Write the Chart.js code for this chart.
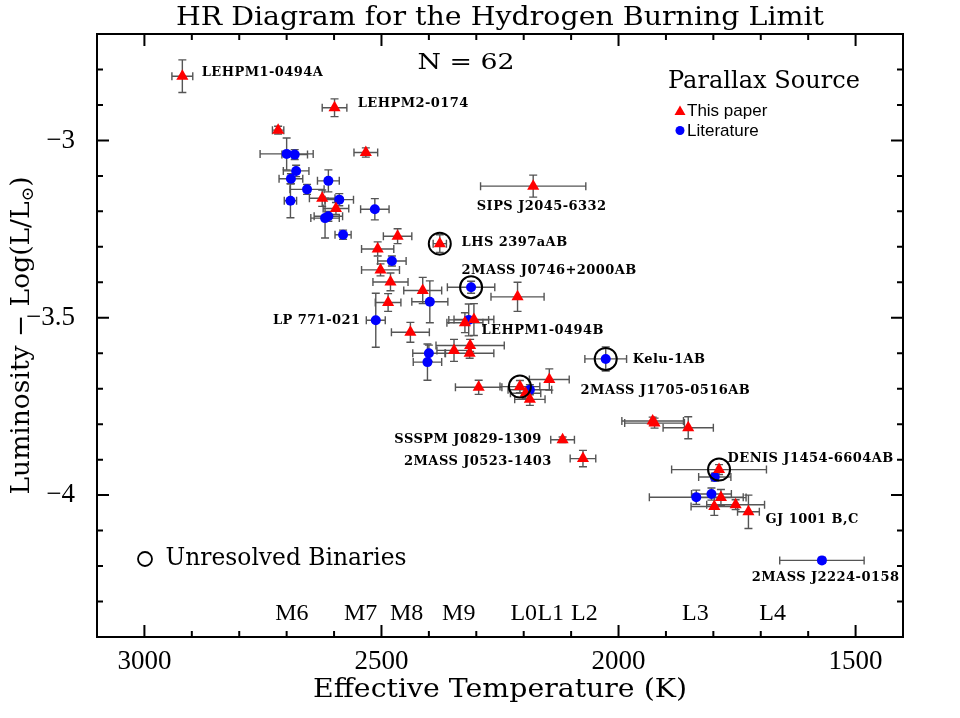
<!DOCTYPE html>
<html>
<head>
<meta charset="utf-8">
<script src="https://cdn.jsdelivr.net/npm/chart.js@4.4.1/dist/chart.umd.min.js"></script>
<style>
  html, body { margin: 0; padding: 0; background: #fff; }
  #wrap { width: 960px; height: 718px; position: relative; }
</style>
</head>
<body>
<div id="wrap"><canvas id="hr"></canvas></div>
<script>
// ---- Data ----
// Parallax from this paper (red triangles)
const paperTeff = [2920, 2599, 2718, 2533, 2625, 2596, 2466, 2377, 2508, 2502, 2481, 2413, 2486, 2213, 2305, 2324, 2439, 2347, 2313, 2314, 2295, 2208, 2146, 2187, 2180, 2118, 2075, 1928, 1924, 1853, 1788, 1784, 1798, 1753, 1726, 2196];
const paperLum = [-2.819, -2.908, -2.971, -3.034, -3.163, -3.192, -3.270, -3.291, -3.306, -3.365, -3.399, -3.423, -3.457, -3.441, -3.505, -3.514, -3.541, -3.592, -3.578, -3.600, -3.696, -3.694, -3.674, -3.730, -3.129, -3.844, -3.897, -3.791, -3.797, -3.810, -3.928, -4.007, -4.032, -4.027, -4.047, -3.713];
const paperTeffErr = [22, 26, 12, 25, 27, 27, 30, 14, 34, 40, 37, 40, 27, 56, 42, 38, 40, 36, 72, 51, 49, 42, 42, 32, 111, 25, 27, 65, 63, 53, 100, 53, 49, 61, 23, 32];
const paperLumErr = [0.046, 0.025, 0.011, 0.013, 0.023, 0.017, 0.021, 0.025, 0.020, 0.017, 0.025, 0.037, 0.025, 0.041, 0.045, 0.028, 0.028, 0.031, 0.017, 0.014, 0.020, 0.017, 0.030, 0.017, 0.031, 0.008, 0.023, 0.011, 0.014, 0.031, 0.014, 0.023, 0.025, 0.014, 0.047, 0.014];

// Parallax from the literature (blue circles)
const litTeff = [2700, 2683, 2680, 2691, 2657, 2612, 2589, 2692, 2514, 2619, 2612, 2581, 2478, 2311, 2398, 2512, 2316, 2400, 2403, 2187, 2027, 1797, 1836, 1804, 1571];
const litLum = [-3.038, -3.040, -3.086, -3.108, -3.138, -3.114, -3.167, -3.170, -3.194, -3.219, -3.214, -3.266, -3.340, -3.414, -3.455, -3.507, -3.506, -3.600, -3.625, -3.703, -3.616, -3.949, -4.006, -3.997, -4.184];
const litTeffErr = [56, 27, 27, 25, 36, 23, 30, 13, 30, 30, 30, 17, 30, 50, 38, 20, 42, 34, 30, 46, 44, 34, 99, 42, 89];
const litLumErr = [0.045, 0.014, 0.016, 0.014, 0.014, 0.031, 0.017, 0.048, 0.030, 0.056, 0.014, 0.013, 0.014, 0.017, 0.059, 0.076, 0.045, 0.023, 0.051, 0.014, 0.034, 0.011, 0.020, 0.017, 0.008];

// Unresolved binaries (open circles)
const binaryTeff = [2377, 2311, 2208, 2027, 1788];
const binaryLum = [-3.291, -3.414, -3.694, -3.616, -3.928];

// Object names and where they sit (data units)
const objectNames = ['LEHPM1-0494A', 'LEHPM2-0174', 'SIPS J2045-6332', 'LHS 2397aAB', '2MASS J0746+2000AB', 'LP 771-021', 'LEHPM1-0494B', 'Kelu-1AB', '2MASS J1705-0516AB', 'SSSPM J0829-1309', '2MASS J0523-1403', 'DENIS J1454-6604AB', 'GJ 1001 B,C', '2MASS J2224-0158'];
const nameTeff = [2879, 2550, 2299, 2331, 2331, 2544, 2289, 1970, 2080, 2162, 2141, 1770, 1690, 1719];
const nameLum = [-2.809, -2.896, -3.186, -3.288, -3.367, -3.508, -3.536, -3.618, -3.705, -3.843, -3.905, -3.897, -4.068, -4.232];
const nameAlign = ['left', 'left', 'left', 'left', 'left', 'right', 'left', 'left', 'left', 'right', 'right', 'left', 'left', 'left'];

// Spectral types along the bottom
const spectralTypes = ['M6', 'M7', 'M8', 'M9', 'L0', 'L1', 'L2', 'L3', 'L4'];
const spectralTeff = [2689, 2544, 2447, 2337, 2200, 2143, 2072, 1838, 1675];

const xMajorTicks = [3000, 2500, 2000, 1500];
const yMajorTicks = [-3, -3.5, -4];

const toPoints = (xs, ys, xe, ye) => xs.map((v, i) => ({ x: v, y: ys[i], xe: xe ? xe[i] : 0, ye: ye ? ye[i] : 0 }));

const SERIF = "'DejaVu Serif', serif";
const TICK_SERIF = "'Liberation Serif', serif";

// ---- Helpers ----
function fitText(ctx, text, cx, cy, font, width, angle) {
    ctx.save();
    ctx.font = font;
    const w = ctx.measureText(text).width;
    ctx.translate(cx, cy);
    if (angle) ctx.rotate(angle);
    ctx.scale(width / w, 1);
    ctx.textAlign = 'center';
    ctx.textBaseline = 'middle';
    ctx.fillStyle = '#000';
    ctx.fillText(text, 0, 0);
    ctx.restore();
}

const isMultiple = (v, step) => Math.abs(v / step - Math.round(v / step)) < 1e-6;

// ---- Error bars (drawn under the markers) ----
const errorBars = {
    id: 'errorBars',
    beforeDatasetsDraw(chart) {
        const { ctx, scales: { x, y } } = chart;
        ctx.save();
        ctx.strokeStyle = '#555';
        ctx.lineWidth = 1.4;
        chart.data.datasets.forEach(ds => {
            if (!ds.errorBars) return;
            ds.data.forEach(p => {
                const px = x.getPixelForValue(p.x);
                const py = y.getPixelForValue(p.y);
                const x1 = x.getPixelForValue(p.x - p.xe);
                const x2 = x.getPixelForValue(p.x + p.xe);
                const y1 = y.getPixelForValue(p.y - p.ye);
                const y2 = y.getPixelForValue(p.y + p.ye);
                ctx.beginPath();
                ctx.moveTo(x1, py); ctx.lineTo(x2, py);
                ctx.moveTo(x1, py - 4); ctx.lineTo(x1, py + 4);
                ctx.moveTo(x2, py - 4); ctx.lineTo(x2, py + 4);
                ctx.moveTo(px, y1); ctx.lineTo(px, y2);
                ctx.moveTo(px - 4, y1); ctx.lineTo(px + 4, y1);
                ctx.moveTo(px - 4, y2); ctx.lineTo(px + 4, y2);
                ctx.stroke();
            });
        });
        ctx.restore();
    }
};

// ---- Frame with inward ticks on all four sides ----
const frame = {
    id: 'frame',
    afterDatasetsDraw(chart) {
        const { ctx, chartArea: a, scales: { x, y } } = chart;
        ctx.save();
        ctx.strokeStyle = '#000';
        ctx.lineWidth = 2;
        ctx.strokeRect(a.left, a.top, a.right - a.left, a.bottom - a.top);
        ctx.beginPath();
        x.ticks.forEach(t => {
            const px = x.getPixelForValue(t.value);
            const len = isMultiple(t.value, 500) ? 12 : 6;
            ctx.moveTo(px, a.bottom); ctx.lineTo(px, a.bottom - len);
            ctx.moveTo(px, a.top); ctx.lineTo(px, a.top + len);
        });
        y.ticks.forEach(t => {
            const py = y.getPixelForValue(t.value);
            const len = isMultiple(t.value, 0.5) ? 12 : 6;
            ctx.moveTo(a.left, py); ctx.lineTo(a.left + len, py);
            ctx.moveTo(a.right, py); ctx.lineTo(a.right - len, py);
        });
        ctx.stroke();
        ctx.restore();
    }
};

// ---- Titles, labels and legend ----
const annotations = {
    id: 'annotations',
    afterDraw(chart) {
        const { ctx, chartArea: a, scales: { x, y } } = chart;
        const midX = (a.left + a.right) / 2;
        const midY = (a.top + a.bottom) / 2;

        fitText(ctx, 'HR Diagram for the Hydrogen Burning Limit', midX, 18, '26px ' + SERIF, 648);
        fitText(ctx, 'Effective Temperature (K)', midX, 690, '26px ' + SERIF, 374);

        // y title with the solar subscript
        ctx.save();
        ctx.translate(22, midY);
        ctx.rotate(-Math.PI / 2);
        ctx.fillStyle = '#000';
        ctx.textBaseline = 'middle';
        ctx.font = '26px ' + SERIF;
        const mainTxt = 'Luminosity \u2212 Log(L/L';
        const wMain = ctx.measureText(mainTxt).width;
        const wClose = ctx.measureText(')').width;
        ctx.font = '17px ' + SERIF;
        const wSun = ctx.measureText('\u2299').width;
        const total = wMain + wSun + wClose;
        ctx.scale(318 / total, 1);
        let cx = -total / 2;
        ctx.textAlign = 'left';
        ctx.font = '26px ' + SERIF;
        ctx.fillText(mainTxt, cx, 0);
        cx += wMain;
        ctx.font = '17px ' + SERIF;
        ctx.fillText('\u2299', cx, 7);
        cx += wSun;
        ctx.font = '26px ' + SERIF;
        ctx.fillText(')', cx, 0);
        ctx.restore();

        fitText(ctx, 'N = 62', 466, 63, '22px ' + SERIF, 97);
        fitText(ctx, 'Parallax Source', 764, 82, '24px ' + SERIF, 192);

        // legend entries
        ctx.save();
        ctx.fillStyle = '#ff0000';
        ctx.beginPath();
        ctx.moveTo(680, 105.5); ctx.lineTo(685.5, 115); ctx.lineTo(674.5, 115); ctx.closePath();
        ctx.fill();
        ctx.fillStyle = '#0000ff';
        ctx.beginPath();
        ctx.arc(680, 130.5, 4.5, 0, Math.PI * 2);
        ctx.fill();
        ctx.fillStyle = '#000';
        ctx.font = "17px 'Liberation Sans', Arial, sans-serif";
        ctx.textAlign = 'left';
        ctx.textBaseline = 'middle';
        ctx.fillText('This paper', 687, 111);
        ctx.fillText('Literature', 687, 131);
        ctx.restore();

        // unresolved binaries key
        ctx.save();
        ctx.strokeStyle = '#000';
        ctx.lineWidth = 1.8;
        ctx.beginPath();
        ctx.arc(145, 559, 7, 0, Math.PI * 2);
        ctx.stroke();
        ctx.restore();
        fitText(ctx, 'Unresolved Binaries', 286, 559, '24px ' + SERIF, 241);

        // spectral types
        const sptY = y.getPixelForValue(-4.335);
        ctx.save();
        ctx.fillStyle = '#000';
        ctx.font = '24px ' + TICK_SERIF;
        ctx.textAlign = 'center';
        ctx.textBaseline = 'middle';
        spectralTypes.forEach((s, i) => {
            ctx.fillText(s, x.getPixelForValue(spectralTeff[i]), sptY);
        });
        ctx.restore();

        // object names
        ctx.save();
        ctx.fillStyle = '#000';
        ctx.font = "bold 13px " + SERIF;
        ctx.textBaseline = 'middle';
        if ('letterSpacing' in ctx) ctx.letterSpacing = '0.45px';
        objectNames.forEach((n, i) => {
            ctx.textAlign = nameAlign[i];
            ctx.fillText(n, x.getPixelForValue(nameTeff[i]), y.getPixelForValue(nameLum[i]));
        });
        ctx.restore();
    }
};

document.addEventListener('DOMContentLoaded', () => {
    const ctx = document.getElementById('hr');

    new Chart(ctx, {
        type: 'scatter',
        data: {
            datasets: [
                {
                    label: 'Unresolved binaries',
                    data: toPoints(binaryTeff, binaryLum),
                    pointStyle: 'circle',
                    pointRadius: 11,
                    pointBorderWidth: 2,
                    borderColor: '#000',
                    backgroundColor: 'rgba(0,0,0,0)',
                    order: 0
                },
                {
                    label: 'Literature',
                    data: toPoints(litTeff, litLum, litTeffErr, litLumErr),
                    errorBars: true,
                    pointStyle: 'circle',
                    pointRadius: 5,
                    pointBorderWidth: 0,
                    backgroundColor: '#0000ff',
                    borderColor: '#0000ff',
                    order: 2
                },
                {
                    label: 'This paper',
                    data: toPoints(paperTeff, paperLum, paperTeffErr, paperLumErr),
                    errorBars: true,
                    pointStyle: 'triangle',
                    pointRadius: 7,
                    pointBorderWidth: 0,
                    backgroundColor: '#ff0000',
                    borderColor: '#ff0000',
                    order: 1
                }
            ]
        },
        options: {
            responsive: true,
            maintainAspectRatio: false,
            animation: false,
            events: [],
            layout: { padding: { top: 34, right: 57, left: 0, bottom: 0 } },
            plugins: {
                legend: { display: false },
                tooltip: { enabled: false },
                title: { display: false }
            },
            scales: {
                x: {
                    type: 'linear',
                    position: 'bottom',
                    min: 1400,
                    max: 3100,
                    reverse: true,
                    grid: { display: false },
                    border: { display: false },
                    afterFit: scale => { scale.height = 81; },
                    ticks: {
                        stepSize: 100,
                        autoSkip: false,
                        maxRotation: 0,
                        padding: 1,
                        color: '#000',
                        font: { family: TICK_SERIF, size: 27 },
                        callback: v => xMajorTicks.includes(v) ? String(v) : ''
                    }
                },
                y: {
                    type: 'linear',
                    min: -4.4,
                    max: -2.7,
                    grid: { display: false },
                    border: { display: false },
                    afterFit: scale => { scale.width = 97; },
                    ticks: {
                        stepSize: 0.1,
                        autoSkip: false,
                        padding: 14,
                        color: '#000',
                        font: { family: TICK_SERIF, size: 27 },
                        callback: v => {
                            const hit = yMajorTicks.find(t => Math.abs(t - v) < 1e-6);
                            return hit !== undefined ? String(hit).replace('-', '\u2212') : '';
                        }
                    }
                }
            }
        },
        plugins: [errorBars, frame, annotations]
    });
});
</script>
</body>
</html>
